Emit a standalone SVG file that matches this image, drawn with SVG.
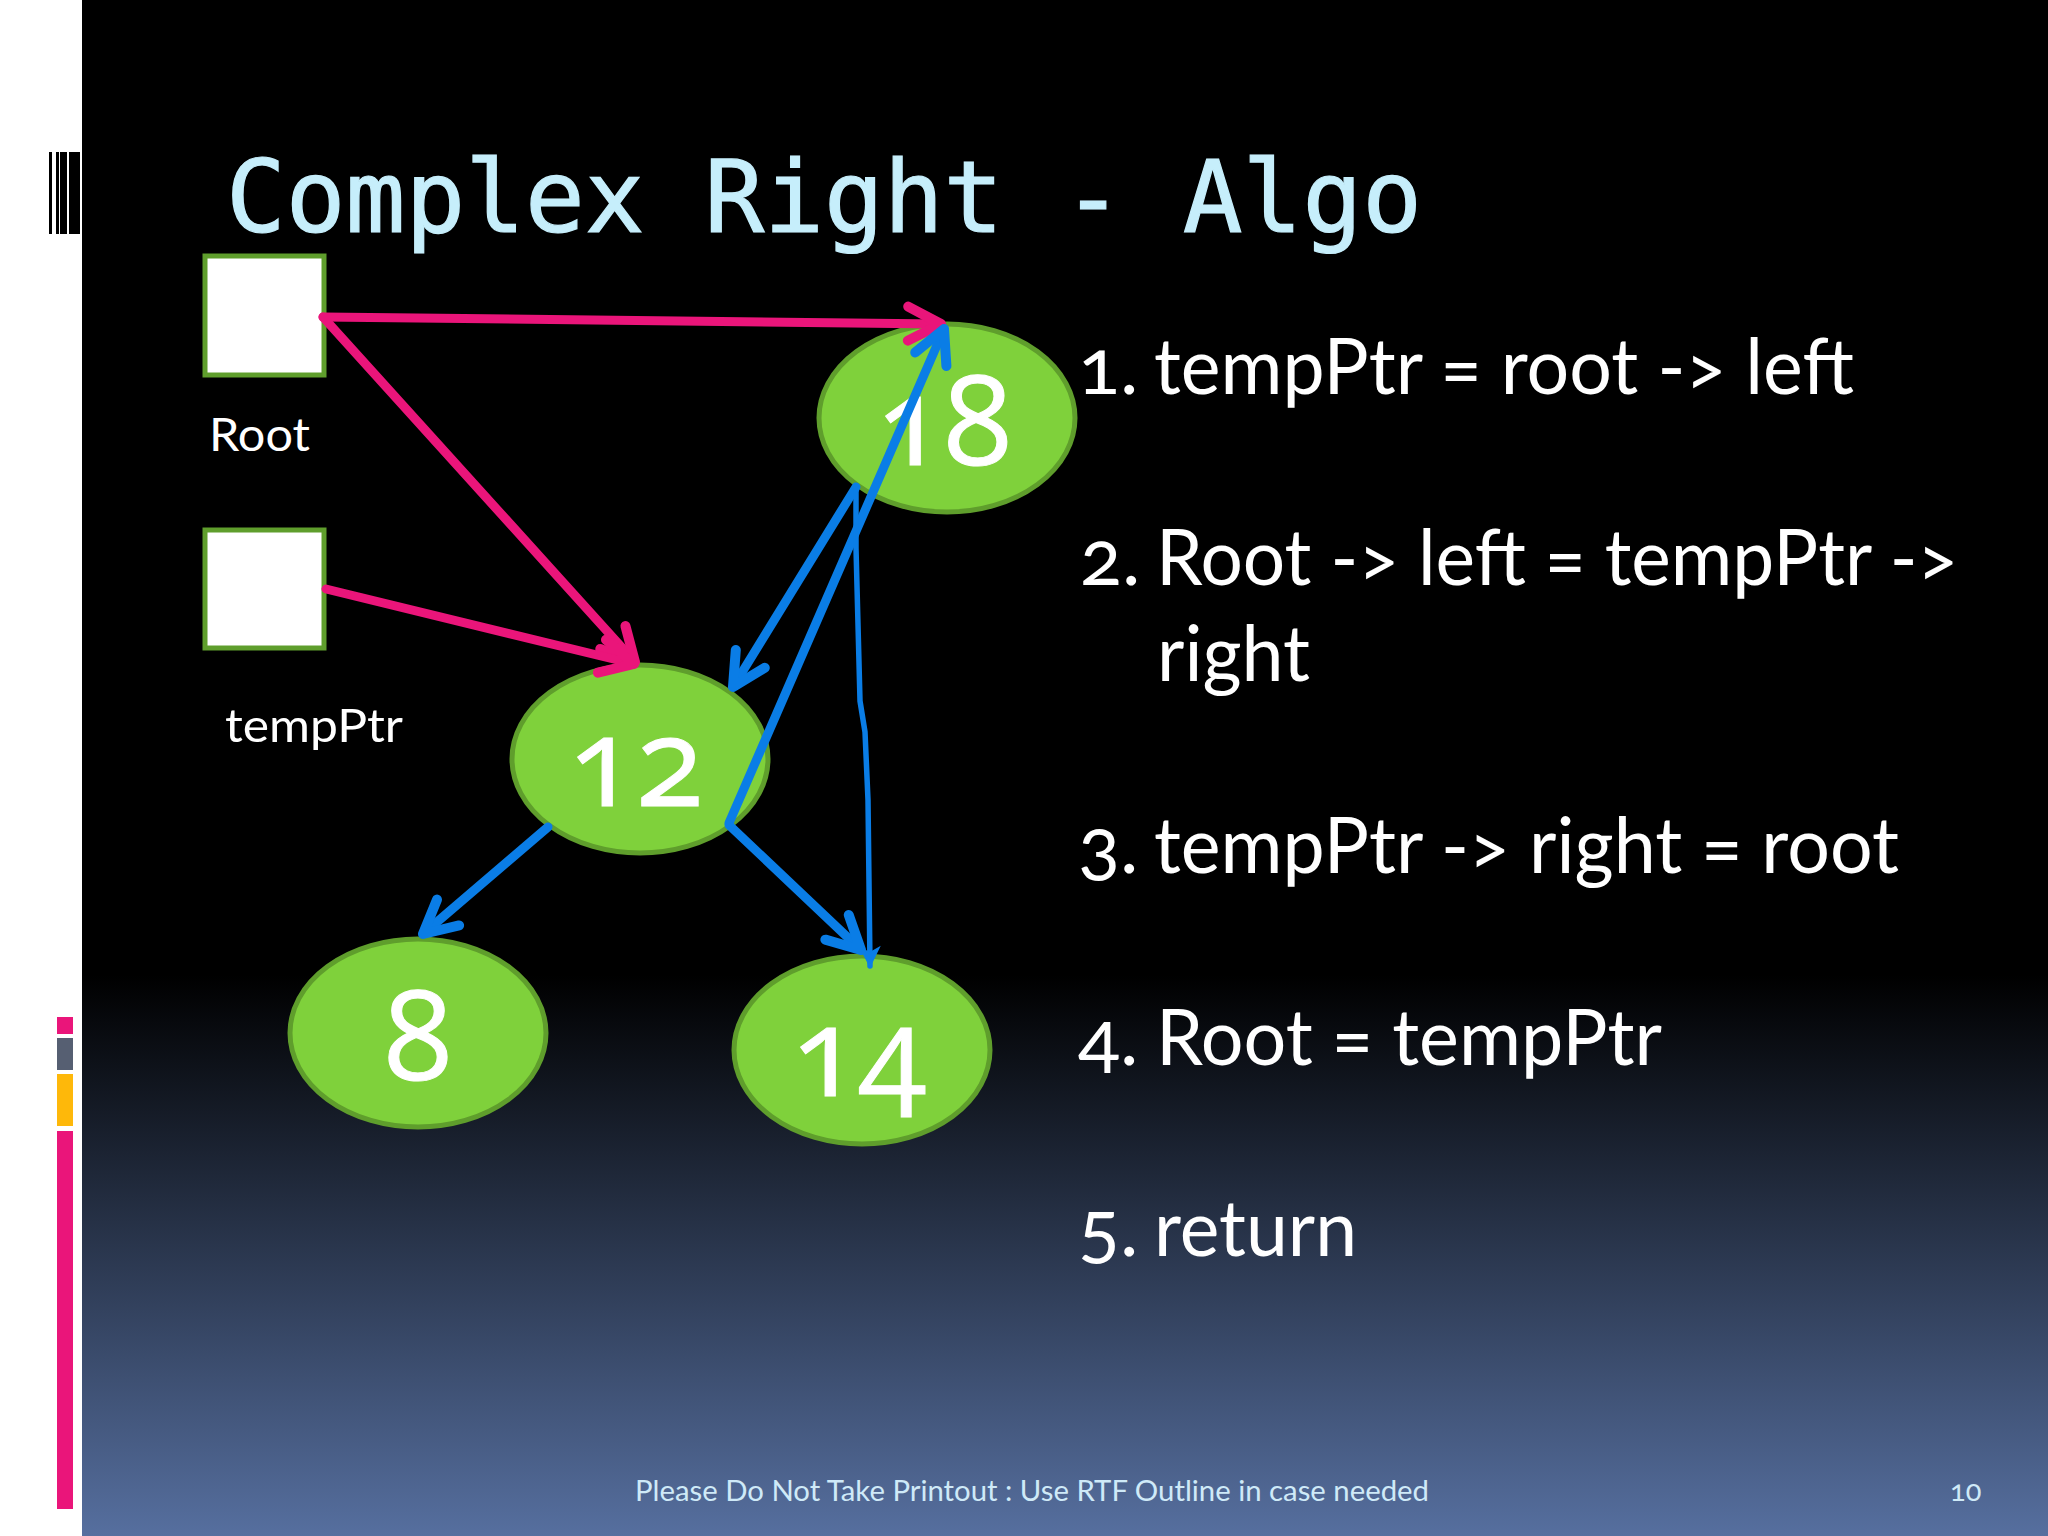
<svg xmlns="http://www.w3.org/2000/svg" width="2048" height="1536" viewBox="0 0 2048 1536">
<style>
.body{font-family:"Lato","Open Sans","Liberation Sans",sans-serif;fill:#fff;font-size:78px;font-feature-settings:"onum" 1}
.lab{font-family:"Lato","Open Sans","Liberation Sans",sans-serif;fill:#fff;font-size:47px}
.foot{font-family:"Lato","Open Sans","Liberation Sans",sans-serif;fill:#cfeaf8;font-size:29px;font-feature-settings:"onum" 1}
.title{font-family:"DejaVu Sans Mono",monospace;fill:#c6eefb;stroke:#c6eefb;stroke-width:1.2;font-size:100px}
.val{font-family:"Open Sans","Lato",sans-serif;fill:#fff;stroke:#fff;stroke-width:1;font-size:124px;text-anchor:middle;font-feature-settings:"onum" 1}
.ell{fill:#7fd13b;stroke:#5f9e2c;stroke-width:5}
.box{fill:#fff;stroke:#5f9e2c;stroke-width:5}
.p{stroke:#ea157a;stroke-width:9;fill:none;stroke-linecap:round;marker-end:url(#hp)}
.b{stroke:#0a7de6;stroke-width:9;fill:none;stroke-linecap:round;stroke-linejoin:round;marker-end:url(#hb)}
.t{stroke:#0a7de6;stroke-width:5.5;fill:none;stroke-linecap:round;stroke-linejoin:round;marker-end:url(#ht)}
</style>
<defs>
<linearGradient id="bg" x1="0" y1="0" x2="0" y2="1"><stop offset="0.635" stop-color="#000"/><stop offset="1" stop-color="#566f9f"/></linearGradient>
<marker id="hp" markerUnits="userSpaceOnUse" orient="auto" overflow="visible" markerWidth="80" markerHeight="80" refX="0" refY="0"><path d="M-33,-17L0,0L-33,17" fill="none" stroke="#ea157a" stroke-width="10" stroke-linecap="round" stroke-linejoin="round"/></marker>
<marker id="hb" markerUnits="userSpaceOnUse" orient="auto" overflow="visible" markerWidth="80" markerHeight="80" refX="0" refY="0"><path d="M-33,-17L0,0L-33,17" fill="none" stroke="#0a7de6" stroke-width="10" stroke-linecap="round" stroke-linejoin="round"/></marker>
<marker id="ht" markerUnits="userSpaceOnUse" orient="auto" overflow="visible" markerWidth="60" markerHeight="60" refX="0" refY="0"><path d="M-20,-11L2,0L-20,11L-14,0Z" fill="#0a7de6" stroke="none"/></marker>
</defs>
<rect width="2048" height="1536" fill="#fff"/>
<rect x="82" width="1966" height="1536" fill="url(#bg)"/>
<g fill="#000"><rect x="49" y="152" width="3" height="82"/><rect x="56" y="152" width="3" height="82"/><rect x="60" y="152" width="7" height="82"/><rect x="69" y="152" width="11" height="82"/></g>
<rect x="57" y="1017" width="16" height="17" fill="#ea157a"/>
<rect x="57" y="1038" width="16" height="32" fill="#565f72"/>
<rect x="57" y="1074" width="16" height="52" fill="#feb80a"/>
<rect x="57" y="1131" width="16" height="378" fill="#ea157a"/>
<text class="title" x="226" y="232" textLength="1196" lengthAdjust="spacingAndGlyphs">Complex Right - Algo</text>
<g id="root"><rect class="box" x="205" y="256" width="119" height="119"/><text class="lab" x="209" y="451" textLength="101" lengthAdjust="spacingAndGlyphs">Root</text></g>
<g id="tempPtr"><rect class="box" x="205" y="530" width="119" height="118"/><text class="lab" x="225" y="742" textLength="178" lengthAdjust="spacingAndGlyphs">tempPtr</text></g>
<g id="n18"><ellipse class="ell" cx="947" cy="418" rx="128" ry="94"/><text class="val" x="944" y="465">18</text></g>
<g id="n12"><ellipse class="ell" cx="640" cy="759" rx="128" ry="94"/><text class="val" x="636" y="806">12</text></g>
<g id="n8"><ellipse class="ell" cx="418" cy="1033" rx="128" ry="94"/><text class="val" x="418" y="1080">8</text></g>
<g id="n14"><ellipse class="ell" cx="862" cy="1050" rx="128" ry="94"/><text class="val" x="859" y="1096">14</text></g>
<g id="connectors">
<path class="p" d="M323,317L941,324"/>
<path class="p" d="M323,317L635,662"/>
<path class="p" d="M326,589L634,664"/>
<path class="b" d="M856,487L733,687"/>
<path class="b" d="M729,823L944,329"/>
<path class="t" d="M856,487L856,548L860,701L865,732L868,800L870,966"/>
<path class="b" d="M548,827L423,934"/>
<path class="b" d="M729,825L861,950"/>
</g>
<g id="list">
<text class="body" x="1078" y="394">1.</text><text class="body" x="1154" y="394" textLength="700" lengthAdjust="spacingAndGlyphs">tempPtr = root -&gt; left</text>
<text class="body" x="1080" y="585">2.</text><text class="body" x="1156" y="585" textLength="802" lengthAdjust="spacingAndGlyphs">Root -&gt; left = tempPtr -&gt;</text>
<text class="body" x="1157" y="681" textLength="153" lengthAdjust="spacingAndGlyphs">right</text>
<text class="body" x="1078" y="873">3.</text><text class="body" x="1154" y="873" textLength="745" lengthAdjust="spacingAndGlyphs">tempPtr -&gt; right = root</text>
<text class="body" x="1078" y="1065">4.</text><text class="body" x="1156" y="1065" textLength="506" lengthAdjust="spacingAndGlyphs">Root = tempPtr</text>
<text class="body" x="1078" y="1256">5.</text><text class="body" x="1154" y="1256" textLength="203" lengthAdjust="spacingAndGlyphs">return</text>
</g>
<text class="foot" x="635" y="1501" textLength="794" lengthAdjust="spacingAndGlyphs">Please Do Not Take Printout : Use RTF Outline in case needed</text>
<text class="foot" x="1950" y="1501">10</text>
</svg>
